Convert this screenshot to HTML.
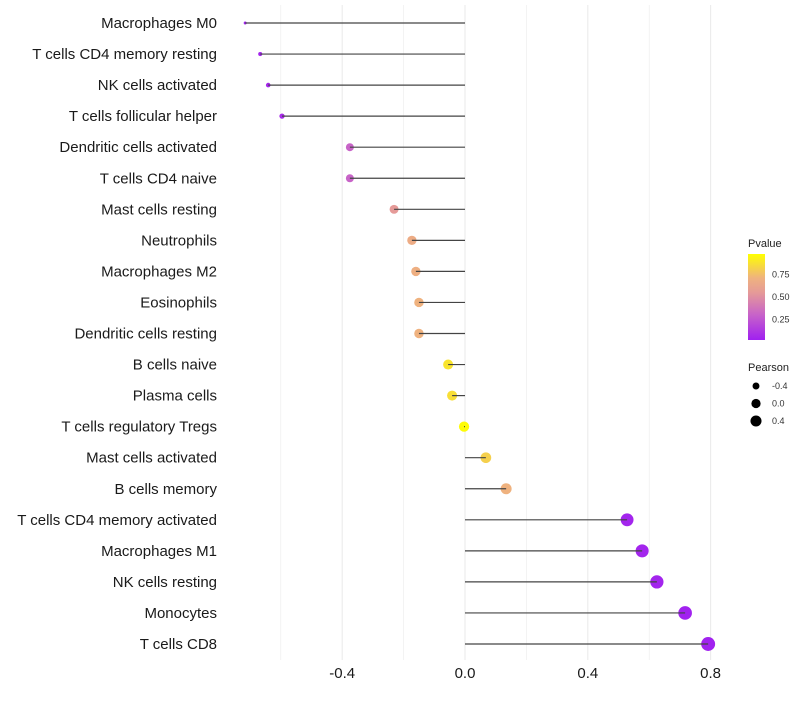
<!DOCTYPE html>
<html><head><meta charset="utf-8"><style>
body{margin:0;background:#fff;font-family:"Liberation Sans",sans-serif}
</style></head><body>
<svg id="chart" width="800" height="700" xmlns="http://www.w3.org/2000/svg">
<defs><linearGradient id="pg" x1="0" y1="1" x2="0" y2="0">
<stop offset="0" stop-color="#A020F0"/><stop offset="0.3" stop-color="#C864C8"/><stop offset="0.55" stop-color="#E59A98"/><stop offset="0.72" stop-color="#EFB27F"/><stop offset="1" stop-color="#FFFF00"/></linearGradient></defs>
<g id="grid"></g><g id="marks"></g><g id="labels"></g><g id="legend"></g>
</svg>
<script>
const categories=["Macrophages M0","T cells CD4 memory resting","NK cells activated","T cells follicular helper","Dendritic cells activated","T cells CD4 naive","Mast cells resting","Neutrophils","Macrophages M2","Eosinophils","Dendritic cells resting","B cells naive","Plasma cells","T cells regulatory  Tregs ","Mast cells activated","B cells memory","T cells CD4 memory activated","Macrophages M1","NK cells resting","Monocytes","T cells CD8"];
const pearson=[-0.716,-0.667,-0.641,-0.596,-0.375,-0.375,-0.231,-0.173,-0.16,-0.15,-0.15,-0.055,-0.042,-0.003,0.068,0.134,0.528,0.577,0.625,0.717,0.792];
const pvalue=[0.01,0.02,0.03,0.05,0.3,0.3,0.55,0.68,0.7,0.72,0.72,0.9,0.88,0.99,0.83,0.72,0.02,0.02,0.02,0.01,0.01];
const xTicks=[-0.4,0,0.4,0.8];
const xTickLabels=["-0.4","0.0","0.4","0.8"];
const pTicks=[0.25,0.5,0.75];
const sizeTicks=[-0.4,0,0.4];
const NS="http://www.w3.org/2000/svg";
const xS=v=>465+v*307;
const yS=i=>23+i*31.05;
const rS=v=>v< -0.375 ? Math.sqrt(2.25+40*(v+0.716)) : Math.sqrt(16+28*(v+0.375));
const stops=[[0,[160,32,240]],[0.3,[200,100,200]],[0.55,[229,154,152]],[0.72,[239,178,127]],[1,[255,255,0]]];
function col(p){for(let k=1;k<stops.length;k++){if(p<=stops[k][0]){const [p0,a]=stops[k-1],[p1,b]=stops[k];const t=(p-p0)/(p1-p0);
 return `rgb(${a.map((x,j)=>Math.round(x+(b[j]-x)*t)).join(",")})`;}}return "rgb(255,255,0)";}
function mk(t,at,par){const e=document.createElementNS(NS,t);for(const k in at)e.setAttribute(k,at[k]);document.getElementById(par).appendChild(e);return e;}
for(let k=-3;k<=4;k++){const v=k*0.2;
 const g=mk("line",{x1:xS(v),x2:xS(v),y1:5,y2:660,stroke:"#ebebeb","stroke-width":k%2==0?1.1:0.6},"grid");
 
 
}
xTicks.forEach((v,i)=>{const t=mk("text",{x:xS(v),y:678,"text-anchor":"middle","font-size":15,fill:"#1a1a1a"},"labels");t.textContent=xTickLabels[i];
 
 });
categories.forEach((c,i)=>{
 const y=yS(i);
 const t=mk("text",{x:217,y:y+5,"text-anchor":"end","font-size":15,fill:"#1a1a1a"},"labels");t.textContent=c;
 
 
 const d=mk("circle",{cx:xS(pearson[i]),cy:y,r:rS(pearson[i]),fill:col(pvalue[i])},"marks");
 
 
 const l=mk("line",{x1:xS(0),x2:xS(pearson[i]),y1:y,y2:y,stroke:"#444","stroke-width":1.2},"marks");
 
 
});
let t=mk("text",{x:748,y:247,"font-size":11,fill:"#222"},"legend");t.textContent="Pvalue";


let r=mk("rect",{x:748,y:254,width:17,height:86,fill:"url(#pg)"},"legend");


pTicks.forEach(p=>{const y=342-p*90;
 const tl=mk("text",{x:772,y:y+3,"font-size":9,fill:"#333"},"legend");tl.textContent=p.toFixed(2);
 
 });
t=mk("text",{x:748,y:371,"font-size":11,fill:"#222"},"legend");t.textContent="Pearson";


sizeTicks.forEach((v,i)=>{const y=386+i*17.5;
 const c=mk("circle",{cx:756,cy:y,r:rS(v)*0.9,fill:"#000"},"legend");
 
 
 const tl=mk("text",{x:772,y:y+3,"font-size":9,fill:"#333"},"legend");tl.textContent=v.toFixed(1);
 
 });
</script>
</body></html>
